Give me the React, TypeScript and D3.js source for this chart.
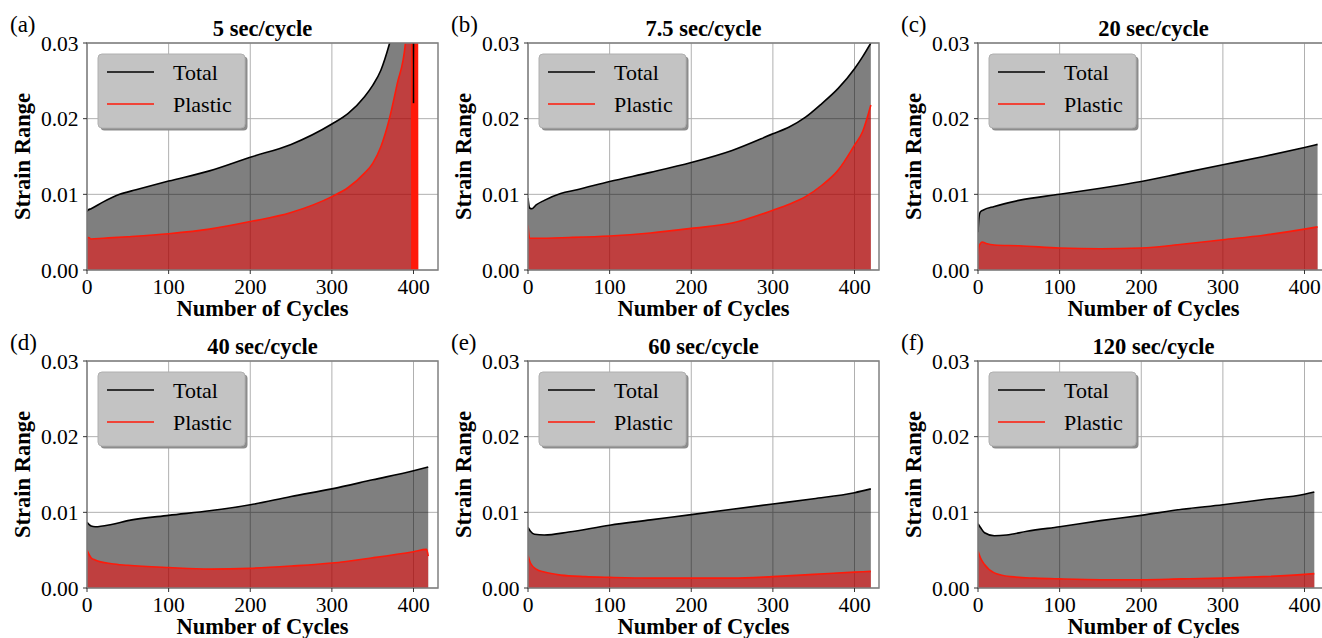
import React from "react";
import * as d3 from "d3";

// values (cycle number, strain range)
const tagLabels = ["(a)", "(b)", "(c)", "(d)", "(e)", "(f)"];
const titles = ["5 sec/cycle", "7.5 sec/cycle", "20 sec/cycle", "40 sec/cycle", "60 sec/cycle", "120 sec/cycle"];
const seriesNames = ["Total", "Plastic"];
const xTicks = [0, 100, 200, 300, 400];
const yTicks = [0, 0.01, 0.02, 0.03];

const totalCyclesA = [0, 1, 5, 20, 40, 60, 100, 150, 200, 250, 300, 320, 340, 350, 360, 370, 380, 390, 398, 399.5, 400, 400.5, 405];
const totalA = [0.0077, 0.0079, 0.0081, 0.009, 0.01, 0.0106, 0.01175, 0.0131, 0.0149, 0.0166, 0.0193, 0.0207, 0.0229, 0.0244, 0.0264, 0.0297, 0.034, 0.045, 0.06, 0.06, 0.022, 0.06, 0.06];
const plasticCyclesA = [0, 2, 5, 20, 50, 100, 150, 200, 250, 300, 320, 340, 350, 360, 370, 380, 390, 394, 397.5, 398, 398.5, 399, 399.5, 400, 400.5, 401, 401.5, 402, 402.5, 403, 403.5, 404, 404.5, 405];
const plasticA = [0.0042, 0.0043, 0.0041, 0.0042, 0.0044, 0.0048, 0.0054, 0.0064, 0.0076, 0.0097, 0.0109, 0.0128, 0.0141, 0.0163, 0.0198, 0.0246, 0.0299, 0.04, 0.06, 0, 0.08, 0, 0.08, 0, 0.08, 0, 0.08, 0, 0.08, 0, 0.08, 0, 0.08, 0];

const totalCyclesB = [0, 2, 5, 10, 20, 40, 60, 100, 150, 200, 250, 300, 320, 340, 360, 380, 400, 410, 420];
const totalB = [0.0095, 0.0082, 0.0081, 0.0086, 0.0092, 0.0101, 0.0106, 0.0117, 0.0129, 0.0142, 0.0158, 0.018, 0.0189, 0.0202, 0.022, 0.024, 0.0266, 0.0282, 0.03];
const plasticCyclesB = [0, 2, 10, 50, 100, 150, 200, 250, 300, 320, 340, 360, 380, 400, 410, 420];
const plasticB = [0.0059, 0.0042, 0.0042, 0.0043, 0.0045, 0.0049, 0.0055, 0.0062, 0.0079, 0.0087, 0.0097, 0.0112, 0.0132, 0.0165, 0.0183, 0.0218];

const totalCyclesC = [0, 1, 3, 6, 20, 50, 100, 150, 200, 250, 300, 350, 400, 416];
const totalC = [0.005, 0.0068, 0.0077, 0.0079, 0.0084, 0.0092, 0.01, 0.0108, 0.0117, 0.0128, 0.0139, 0.015, 0.0162, 0.0166];
const plasticCyclesC = [0, 1, 3, 5, 10, 20, 50, 100, 150, 200, 250, 300, 350, 400, 416];
const plasticC = [0.002, 0.003, 0.0035, 0.0037, 0.0035, 0.0033, 0.0032, 0.0029, 0.0028, 0.0029, 0.0034, 0.004, 0.0046, 0.0054, 0.0057];

const totalCyclesD = [0, 5, 10, 30, 50, 100, 150, 200, 250, 300, 350, 400, 418];
const totalD = [0.0087, 0.0082, 0.0081, 0.0084, 0.0089, 0.0096, 0.0102, 0.011, 0.0121, 0.0131, 0.0143, 0.0155, 0.016];
const plasticCyclesD = [0, 5, 10, 30, 50, 100, 150, 200, 250, 300, 350, 400, 416, 418];
const plasticD = [0.005, 0.004, 0.0037, 0.0032, 0.003, 0.0027, 0.0025, 0.0026, 0.0029, 0.0033, 0.004, 0.0048, 0.0051, 0.0042];

const totalCyclesE = [0, 3, 8, 20, 50, 100, 150, 200, 250, 300, 350, 400, 420];
const totalE = [0.008, 0.0075, 0.0071, 0.007, 0.0074, 0.0083, 0.009, 0.0097, 0.0104, 0.0111, 0.0118, 0.0126, 0.0131];
const plasticCyclesE = [0, 3, 10, 20, 40, 70, 100, 150, 200, 250, 300, 350, 400, 420];
const plasticE = [0.0043, 0.0033, 0.0025, 0.0021, 0.0017, 0.0015, 0.0014, 0.0013, 0.0013, 0.0013, 0.0015, 0.0018, 0.0021, 0.0022];

const totalCyclesF = [0, 3, 8, 20, 35, 60, 100, 150, 200, 250, 300, 350, 400, 412];
const totalF = [0.0085, 0.008, 0.0073, 0.0069, 0.007, 0.0075, 0.0081, 0.0089, 0.0096, 0.0104, 0.011, 0.0117, 0.0124, 0.0127];
const plasticCyclesF = [0, 3, 8, 20, 40, 70, 100, 150, 200, 250, 300, 350, 400, 412];
const plasticF = [0.0049, 0.004, 0.0031, 0.002, 0.0015, 0.0013, 0.0012, 0.0011, 0.0011, 0.0012, 0.0013, 0.0015, 0.0018, 0.0019];

const panels = [
  { tc: totalCyclesA, tv: totalA, pc: plasticCyclesA, pv: plasticA },
  { tc: totalCyclesB, tv: totalB, pc: plasticCyclesB, pv: plasticB },
  { tc: totalCyclesC, tv: totalC, pc: plasticCyclesC, pv: plasticC },
  { tc: totalCyclesD, tv: totalD, pc: plasticCyclesD, pv: plasticD },
  { tc: totalCyclesE, tv: totalE, pc: plasticCyclesE, pv: plasticE },
  { tc: totalCyclesF, tv: totalF, pc: plasticCyclesF, pv: plasticF },
];

const W = 1322;
const H = 638;
const colLeft = [87, 528, 978];
const rowTop = [43, 361];
const plotW = 351;
const plotH = 227;
const font = '"Liberation Serif", "DejaVu Serif", "Times New Roman", serif';

type Pt = [number, number];

function Panel({ i }: { i: number }) {
  const p = panels[i];
  const left = colLeft[i % 3];
  const top = rowTop[Math.floor(i / 3)];
  const x = d3.scaleLinear().domain([0, 430]).range([0, plotW]);
  const y = d3.scaleLinear().domain([0, 0.03]).range([plotH, 0]);
  const tot: Pt[] = p.tc.map((c, k) => [c, p.tv[k]]);
  const pla: Pt[] = p.pc.map((c, k) => [c, p.pv[k]]);
  const area = d3.area<Pt>().x((d) => x(d[0])).y0(y(0)).y1((d) => y(d[1])).curve(d3.curveMonotoneX);
  const line = d3.line<Pt>().x((d) => x(d[0])).y((d) => y(d[1])).curve(d3.curveMonotoneX);
  const fmt = d3.format(".2f");
  const clipId = `clip-${i}`;

  return (
    <g transform={`translate(${left},${top})`}>
      <defs>
        <clipPath id={clipId}>
          <rect width={plotW} height={plotH} />
        </clipPath>
      </defs>
      {/* grid */}
      {xTicks.map((t) => (
        <line key={"gx" + t} x1={x(t)} x2={x(t)} y1={0} y2={plotH} stroke="#b0b0b0" strokeWidth={1} />
      ))}
      {yTicks.map((t) => (
        <line key={"gy" + t} x1={0} x2={plotW} y1={y(t)} y2={y(t)} stroke="#b0b0b0" strokeWidth={1} />
      ))}
      <g clipPath={`url(#${clipId})`}>
        <path d={area(tot) || ""} fill="#000" fillOpacity={0.5} />
        <path d={area(pla) || ""} fill="#ff0000" fillOpacity={0.5} />
        <path d={line(pla) || ""} fill="none" stroke="#ff1a0a" strokeWidth={1.6} />
        <path d={line(tot) || ""} fill="none" stroke="#000" strokeWidth={1.6} />
      </g>
      <rect width={plotW} height={plotH} fill="none" stroke="#808080" strokeWidth={1.5} />
      {/* ticks */}
      {xTicks.map((t) => (
        <g key={"tx" + t} transform={`translate(${x(t)},${plotH})`}>
          <line y1={0} y2={4} stroke="#333" strokeWidth={1} />
          <text y={23.5} textAnchor="middle" fontSize={21.5} fill="#000">{t}</text>
        </g>
      ))}
      {yTicks.map((t) => (
        <g key={"ty" + t} transform={`translate(0,${y(t)})`}>
          <line x1={0} x2={-4} stroke="#333" strokeWidth={1} />
          <text x={-8.5} dy="0.35em" textAnchor="end" fontSize={21.5} fill="#000">{fmt(t)}</text>
        </g>
      ))}
      {/* legend */}
      <g transform="translate(11,11)">
        <rect x={2.5} y={2.5} width={147} height={74} rx={4} fill="#8c8c8c" />
        <rect width={147} height={74} rx={4} fill="#c3c3c3" stroke="#b0b0b0" strokeWidth={1} />
        <line x1={9} x2={56} y1={18} y2={18} stroke="#000" strokeWidth={1.6} />
        <line x1={9} x2={56} y1={50} y2={50} stroke="#ff1a0a" strokeWidth={1.6} />
        <text x={75} y={25.5} fontSize={22} fill="#000">{seriesNames[0]}</text>
        <text x={75} y={58} fontSize={22} fill="#000">{seriesNames[1]}</text>
      </g>
      {/* titles and labels */}
      <text x={plotW / 2} y={-7} textAnchor="middle" fontSize={22.5} fontWeight="bold" fill="#000">{titles[i]}</text>
      <text x={-77} y={-11} fontSize={23} fill="#000">{tagLabels[i]}</text>
      <text x={plotW / 2} y={plotH + 46} textAnchor="middle" fontSize={22.5} fontWeight="bold" fill="#000">Number of Cycles</text>
      <text transform={`translate(-57.5,${plotH / 2}) rotate(-90)`} textAnchor="middle" fontSize={22.5} fontWeight="bold" fill="#000">Strain Range</text>
    </g>
  );
}

export default function App() {
  return (
    <svg width={W} height={H} style={{ position: "absolute", left: 0, top: 0, background: "#fff", fontFamily: font }}>
      <rect width={W} height={H} fill="#fff" />
      {panels.map((_, i) => (
        <Panel key={i} i={i} />
      ))}
    </svg>
  );
}
